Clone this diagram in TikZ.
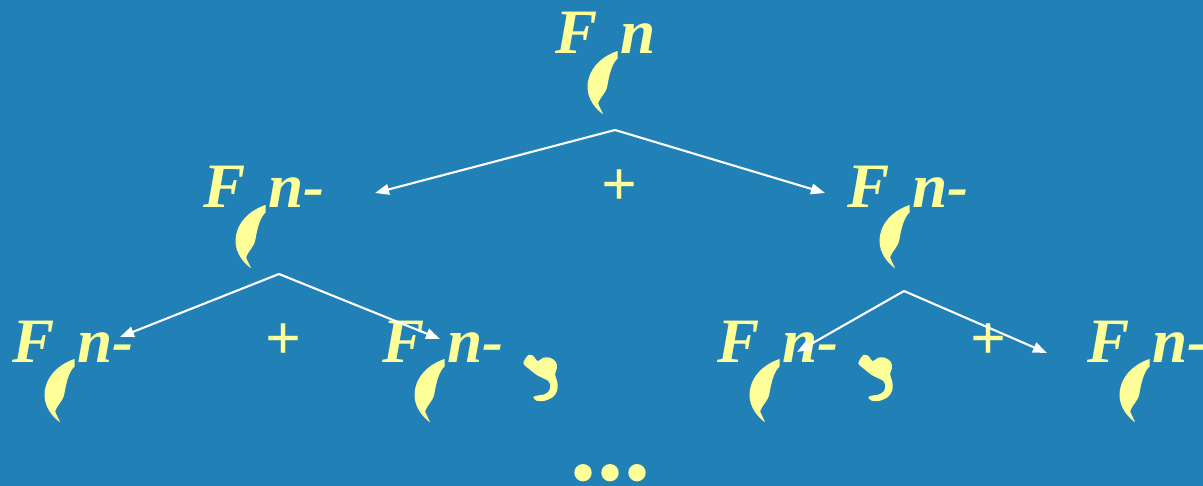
\documentclass[tikz,border=0pt]{standalone}
\usepackage{fontspec}
\setmainfont{Liberation Serif}
\usetikzlibrary{arrows.meta}

\definecolor{slideblue}{RGB}{33,128,181}
\definecolor{chalk}{RGB}{255,255,153}

\tikzset{
  term/.style={text=chalk, inner sep=0pt, anchor=base west,
    font=\fontsize{36}{40}\selectfont\bfseries\itshape},
  plus/.style={text=chalk, inner sep=0pt, font=\fontsize{36}{40}\selectfont\bfseries},
  branch/.style={white, line width=1.2pt, -{Triangle[length=8pt,width=6pt]}},
  crescent/.pic={
    \fill[chalk] (0,0) .. controls (-18,6) and (-30,20) .. (-30,36)
      .. controls (-30,48) and (-22,58) .. (-14.4,63.3)
      -- (-19.4,52.6) .. controls (-17,45) and (-11,42) .. (-10,34)
      .. controls (-8,22) and (-5,12) .. (0,7.6) -- cycle;
  },
  hook/.pic={
    \fill[chalk] plot[smooth cycle, tension=0.5] coordinates {
      (0.3,10.3) (5.3,2) (10.3,3) (14.7,8) (20.3,4.7) (27,4.7) (32.7,8.7)
      (34,14.7) (32,21.3) (34.3,28.7) (34.3,37) (30.3,43.7) (22,47.7)
      (13.7,47.7) (10.3,44.3) (13.7,42.7) (21.3,41.3) (26,38) (27.3,32.7)
      (25.3,28) (20.3,25.3) (13.7,22) (5.3,15.3)};
  }
}

\begin{document}
\begin{tikzpicture}[x=0.02cm, y=-0.02cm]

% --- background ---
\fill[slideblue] (0,0) rectangle (1203,486);
\useasboundingbox (0,0) rectangle (1203,486);

% --- terms F(n), F(n-1), ... ---
\foreach \nm/\x/\y/\txt in {top/555/54/n, ml/203/208/n-, mr/847/208/n-,
    b1/12/362/n-, b2/382/362/n-, b3/717/362/n-, b4/1087/362/n-} {
  \node[term] (F-\nm) at (\x,\y) {F};
  \node[term] (n-\nm) at (\x+65,\y) {\txt};
  \pic at (\x+62.5,\y-3) {crescent};
}
\pic at (523,353) {hook};
\pic at (858,353) {hook};

% --- plus signs ---
\node[plus] (p-top) at (620,188) {+};
\node[plus] (p-ml) at (284,342) {+};
\node[plus] (p-mr) at (989,342) {+};

% --- branches ---
\coordinate (a-top) at (615,130);
\coordinate (e-ml) at (375,193);
\coordinate (e-mr) at (825,193);
\coordinate (a-ml) at (279,274);
\coordinate (e-b1) at (120,337);
\coordinate (e-b2) at (440,339);
\coordinate (a-mr) at (904,291);
\coordinate (e-b3) at (797,352);
\coordinate (e-b4) at (1047,353);

\draw[branch] (a-top) -- (e-ml);
\draw[branch] (a-top) -- (e-mr);
\draw[branch] (a-ml) -- (e-b1);
\draw[branch] (a-ml) -- (e-b2);
\draw[branch] (a-mr) -- (e-b3);
\draw[branch] (a-mr) -- (e-b4);

% --- dots ---
\foreach \x in {583,610,637} {
  \fill[chalk] (\x,472.7) circle[radius=8.7];
}

\end{tikzpicture}
\end{document}
